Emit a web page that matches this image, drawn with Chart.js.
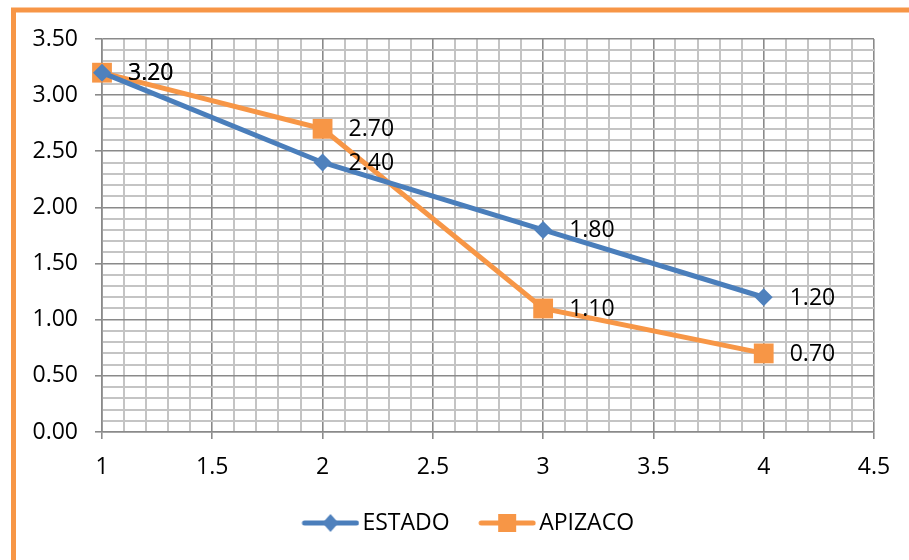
<!DOCTYPE html>
<html>
<head>
<meta charset="utf-8">
<script src="https://cdn.jsdelivr.net/npm/chart.js@4.4.1/dist/chart.umd.min.js"></script>
<style>
  html, body { margin: 0; padding: 0; background: #ffffff; }
  canvas { display: block; }
</style>
</head>
<body>
<canvas id="chart" width="909" height="560"></canvas>
<script>
// Values
const xValues = [1, 2, 3, 4];
const estado = [3.20, 2.40, 1.80, 1.20];
const apizaco = [3.20, 2.70, 1.10, 0.70];
const seriesNames = ['ESTADO', 'APIZACO'];

const FONT = '"Open Sans", "Noto Sans", sans-serif';
const BLUE_LINE = '#4A7EBB';
const BLUE_MARK = '#4F81BD';
const ORANGE = '#F79646';
const MAJOR = '#8a8a8a';
const MINOR = '#c4c4c4';

const isMajor = v => Math.abs(v * 2 - Math.round(v * 2)) < 1e-6;

// Legend swatch: a short line with the series marker on it
function swatch(color, markColor, shape) {
  const c = document.createElement('canvas');
  c.width = 62; c.height = 22;
  const g = c.getContext('2d');
  const cx = 33;
  g.strokeStyle = color; g.lineWidth = 5; g.lineCap = 'round';
  g.beginPath(); g.moveTo(cx - 26, 11); g.lineTo(cx + 26, 11); g.stroke();
  g.fillStyle = markColor;
  if (shape === 'diamond') {
    g.beginPath();
    g.moveTo(cx - 8, 11); g.lineTo(cx, 2); g.lineTo(cx + 8, 11); g.lineTo(cx, 20);
    g.closePath(); g.fill();
  } else {
    g.fillRect(cx - 9, 11 - 9, 18, 18);
  }
  return c;
}
const swatches = [swatch(BLUE_LINE, BLUE_MARK, 'diamond'), swatch(ORANGE, ORANGE, 'square')];

const toPoints = ys => xValues.map((x, i) => ({ x: x, y: ys[i] }));

// Orange frame around the chart
const framePlugin = {
  id: 'frame',
  beforeDraw(chart) {
    const ctx = chart.ctx;
    ctx.save();
    ctx.fillStyle = '#ffffff';
    ctx.fillRect(0, 0, chart.width, chart.height);
    ctx.strokeStyle = ORANGE;
    ctx.lineWidth = 5;
    ctx.strokeRect(13.5, 10, chart.width + 50, chart.height + 50);
    ctx.restore();
  }
};

// Value labels to the right of each point
const valueLabels = {
  id: 'valueLabels',
  afterDatasetsDraw(chart) {
    const ctx = chart.ctx;
    ctx.save();
    ctx.font = '23px ' + FONT;
    ctx.fillStyle = '#000000';
    ctx.textAlign = 'left';
    ctx.textBaseline = 'middle';
    chart.data.datasets.forEach((ds, di) => {
      const meta = chart.getDatasetMeta(di);
      meta.data.forEach((pt, i) => {
        ctx.fillText(ds.data[i].y.toFixed(2), pt.x + 26, pt.y + 1);
      });
    });
    ctx.restore();
  }
};

const gridOpts = {
  color: c => isMajor(c.tick.value) ? MAJOR : MINOR,
  tickColor: c => isMajor(c.tick.value) ? MAJOR : 'rgba(0,0,0,0)',
  lineWidth: c => isMajor(c.tick.value) ? 1.6 : 2,
  tickLength: 7
};

new Chart(document.getElementById('chart'), {
  type: 'line',
  data: {
    datasets: [
      {
        label: seriesNames[0],
        data: toPoints(estado),
        borderColor: BLUE_LINE,
        backgroundColor: BLUE_MARK,
        borderWidth: 5,
        pointStyle: 'rectRot',
        pointRadius: 9,
        pointBorderWidth: 0,
        pointBackgroundColor: BLUE_MARK,
        tension: 0,
        clip: false
      },
      {
        label: seriesNames[1],
        data: toPoints(apizaco),
        borderColor: ORANGE,
        backgroundColor: ORANGE,
        borderWidth: 5,
        pointStyle: 'rect',
        pointRadius: 14,
        pointBorderWidth: 0,
        pointBackgroundColor: ORANGE,
        tension: 0,
        clip: false
      }
    ]
  },
  options: {
    responsive: false,
    animation: false,
    events: [],
    layout: { padding: { left: 31, right: 0, top: 39, bottom: 15.5 } },
    scales: {
      x: {
        type: 'linear',
        min: 1, max: 4.5,
        afterFit(s) { s.height = 46.5; },
        ticks: {
          stepSize: 0.1,
          autoSkip: false,
          maxRotation: 0,
          padding: 15,
          color: '#000000',
          font: { family: FONT, size: 23 },
          callback: v => isMajor(v) ? String(Math.round(v * 10) / 10) : ''
        },
        grid: gridOpts,
        border: { color: MAJOR, width: 1.6 }
      },
      y: {
        min: 0, max: 3.5,
        afterFit(s) { s.width = 71; },
        ticks: {
          stepSize: 0.1,
          autoSkip: false,
          padding: 17,
          color: '#000000',
          font: { family: FONT, size: 23 },
          callback: v => isMajor(v) ? v.toFixed(2) : ''
        },
        grid: gridOpts,
        border: { color: MAJOR, width: 1.6 }
      },
      // empty margin strip on the right of the plot
      yMargin: {
        position: 'right',
        min: 0, max: 1,
        afterFit(s) { s.width = 35; },
        ticks: { display: false },
        grid: { display: false, drawTicks: false },
        border: { display: false }
      }
    },
    plugins: {
      tooltip: { enabled: false },
      legend: {
        position: 'bottom',
        labels: {
          usePointStyle: true,
          pointStyleWidth: 45,
          boxHeight: 22,
          padding: 33,
          color: '#000000',
          font: { family: FONT, size: 23 },
          generateLabels: chart => chart.data.datasets.map((ds, i) => ({
            text: ds.label,
            pointStyle: swatches[i],
            fillStyle: ds.borderColor,
            strokeStyle: ds.borderColor,
            lineWidth: 0,
            hidden: false,
            datasetIndex: i,
            fontColor: '#000000'
          }))
        }
      }
    }
  },
  plugins: [framePlugin, valueLabels]
});
</script>
</body>
</html>
